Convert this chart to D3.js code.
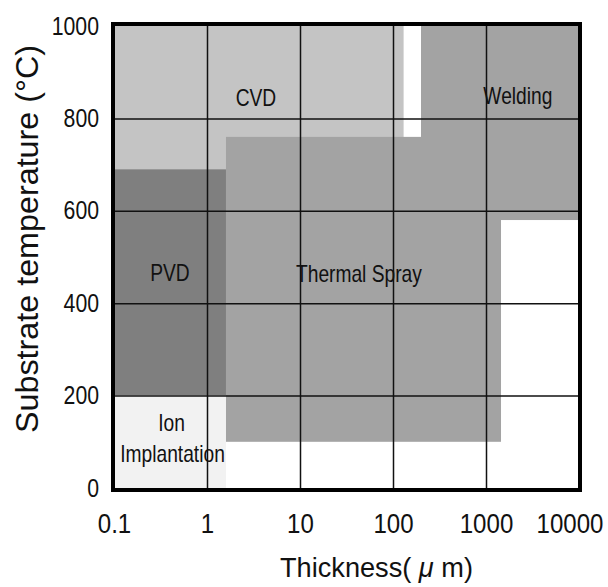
<!DOCTYPE html>
<html>
<head>
<meta charset="utf-8">
<script src="https://cdn.jsdelivr.net/npm/d3@7"></script>
<style>
  html, body { margin: 0; padding: 0; background: #fff; }
  svg { display: block; font-family: "Liberation Sans", Arial, sans-serif; }
</style>
</head>
<body>
<svg id="chart" width="608" height="587"></svg>
<script>
// ── Coating process map: thickness (µm, log) × substrate temperature (°C) ────
const xTicks = [0.1, 1, 10, 100, 1000, 10000];
const yTicks = [0, 200, 400, 600, 800, 1000];

// process windows, in data units (thickness µm, temperature °C)
const regionNames = ["CVD", "PVD", "Ion", "Thermal", "Welding"];
const regionX0    = [0.1,   0.1,   0.1,   1.6,       200];
const regionX1    = [130,   1.6,   1.6,   1450,      10000];
const regionY0    = [690,   200,   0,     100,       580];
const regionY1    = [1000,  690,   200,   760,       1000];

// label anchors (thickness, temperature)
const labelTexts = ["CVD", "Welding", "PVD", "Thermal Spray", "Ion", "Implantation"];
const labelX     = [3.36,  2200,      0.40,  43,              0.415, 0.426];
const labelY     = [826,   831,       448,   446,             123,   56];

const fills = { CVD: "#c4c4c4", PVD: "#7f7f7f", Ion: "#f2f2f2", Thermal: "#a3a3a3", Welding: "#a3a3a3" };

const svg = d3.select("#chart");

const x = d3.scaleLog().domain([0.1, 10000]).range([114, 579]);
const y = d3.scaleLinear().domain([0, 1000]).range([488, 26]);

// Regions (drawn in order so later ones sit on top)
svg.append("g").selectAll("rect")
  .data(regionNames.map((n, i) => ({ n, x0: regionX0[i], x1: regionX1[i], y0: regionY0[i], y1: regionY1[i] })))
  .join("rect")
  .attr("x", d => x(d.x0))
  .attr("y", d => y(d.y1))
  .attr("width", d => x(d.x1) - x(d.x0))
  .attr("height", d => y(d.y0) - y(d.y1))
  .attr("fill", d => fills[d.n]);

// Grid
const H = y(0) - y(1000), W = x(10000) - x(0.1);
svg.append("g").attr("transform", `translate(0,${y(0)})`)
  .call(d3.axisBottom(x).tickValues(xTicks.slice(1, -1)).tickSize(-H).tickFormat(""))
  .call(ax => ax.select(".domain").remove())
  .selectAll("line").attr("stroke", "#111").attr("stroke-width", 1.5);
svg.append("g").attr("transform", `translate(${x(0.1)},0)`)
  .call(d3.axisLeft(y).tickValues(yTicks.slice(1, -1)).tickSize(-W).tickFormat(""))
  .call(ax => ax.select(".domain").remove())
  .selectAll("line").attr("stroke", "#111").attr("stroke-width", 1.5);

// Region labels (narrow face → squeeze horizontally)
svg.append("g").selectAll("text")
  .data(labelTexts.map((t, i) => ({ t, x: labelX[i], y: labelY[i] })))
  .join("text")
  .attr("transform", d => `translate(${x(d.x)},${y(d.y)}) scale(0.8,1)`)
  .attr("text-anchor", "middle")
  .attr("font-size", 24)
  .attr("fill", "#111")
  .text(d => d.t);

// Frame
svg.append("rect")
  .attr("x", 113).attr("y", 24).attr("width", 467).attr("height", 466)
  .attr("fill", "none").attr("stroke", "#000").attr("stroke-width", 4);

// Axes labels
const sxX = 0.86, sxY = 0.85;
const xAx = svg.append("g").attr("transform", `translate(0,${y(0)})`)
  .call(d3.axisBottom(x).tickValues(xTicks).tickSize(0).tickPadding(25)
    .tickFormat(d => d < 1 ? String(d) : d3.format("d")(d)));
xAx.select(".domain").remove();
xAx.selectAll("text")
  .attr("font-size", 28).attr("fill", "#111")
  .attr("transform", `scale(${sxX},1)`)
  .attr("dx", (d, i) => i === xTicks.length - 1 ? -11 : 0);

const yAx = svg.append("g").attr("transform", `translate(${x(0.1) - 1},0)`)
  .call(d3.axisLeft(y).tickValues(yTicks).tickSize(0).tickPadding(14 / sxY)
    .tickFormat(d3.format("d")));
yAx.select(".domain").remove();
yAx.selectAll("text")
  .attr("font-size", 25).attr("fill", "#111")
  .attr("transform", `scale(${sxY},1)`);

// Axis titles
const xt = svg.append("text")
  .attr("x", 376.5).attr("y", 577)
  .attr("text-anchor", "middle")
  .attr("font-size", 27).attr("fill", "#111")
  .attr("textLength", 193).attr("lengthAdjust", "spacingAndGlyphs");
xt.append("tspan").text("Thickness( ");
xt.append("tspan").attr("font-style", "italic").text("μ");
xt.append("tspan").text(" m)");

svg.append("text")
  .attr("transform", "translate(37.5,239) rotate(-90)")
  .attr("text-anchor", "middle")
  .attr("font-size", 31).attr("fill", "#111")
  .attr("textLength", 388).attr("lengthAdjust", "spacingAndGlyphs")
  .text("Substrate temperature (°C)");
</script>
</body>
</html>
